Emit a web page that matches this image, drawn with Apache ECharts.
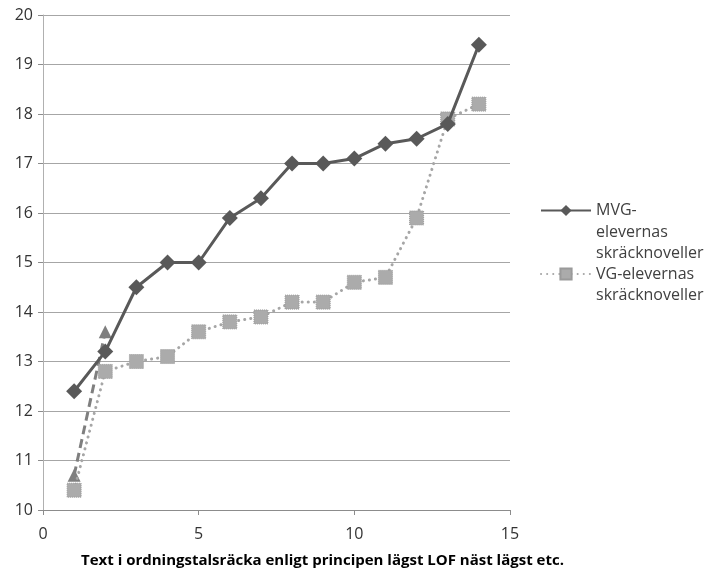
<!DOCTYPE html>
<html>
<head>
<meta charset="utf-8">
<script src="https://cdn.jsdelivr.net/npm/echarts@6/dist/echarts.min.js"></script>
<style>
html, body { margin: 0; padding: 0; background: #fff; }
#chart { width: 705px; height: 572px; }
</style>
</head>
<body>
<div id="chart"></div>
<script>
// Rank order of the texts (lowest LOF first)
const rank = [1, 2, 3, 4, 5, 6, 7, 8, 9, 10, 11, 12, 13, 14];
// MVG students' horror stories
const mvgValues = [12.4, 13.2, 14.5, 15.0, 15.0, 15.9, 16.3, 17.0, 17.0, 17.1, 17.4, 17.5, 17.8, 19.4];
// VG students' horror stories
const vgValues = [10.4, 12.8, 13.0, 13.1, 13.6, 13.8, 13.9, 14.2, 14.2, 14.6, 14.7, 15.9, 17.9, 18.2];
// Short unlabelled series
const extraRank = [1, 2];
const extraValues = [10.7, 13.6];

const mvgName = 'MVG-elevernas skräcknoveller';
const vgName = 'VG-elevernas skräcknoveller';
const mvgLegendLines = ['MVG-', 'elevernas', 'skräcknoveller'];
const vgLegendLines = ['VG-elevernas', 'skräcknoveller'];

const FONT = '"Open Sans", sans-serif';
const LH = 21.5;

const pairs = (xs, ys) => xs.map((x, i) => [x, ys[i]]);

const chart = echarts.init(document.getElementById('chart'), null, { renderer: 'canvas' });

// The legend icon sits on the vertical middle of the label, so blank lines
// are put in front of the label to bring its first line level with the icon.
function legendFor(name, lines, iconCenterY) {
  const n = lines.length;
  const padded = new Array(n - 1).fill(' ').concat(lines);
  return {
    left: 540,
    top: iconCenterY - (2 * n - 1) * LH / 2,
    padding: 0,
    orient: 'vertical',
    itemWidth: 50,
    itemHeight: 14,
    itemGap: 0,
    data: [name],
    formatter: () => padded.join('\n'),
    textStyle: {
      fontFamily: FONT,
      fontSize: 16,
      color: '#404040',
      lineHeight: LH
    }
  };
}

chart.setOption({
  animation: false,
  backgroundColor: '#ffffff',
  grid: {
    left: 43, top: 15, width: 467, height: 495,
    containLabel: false,
    outerBoundsMode: 'none'
  },
  legend: [
    legendFor(mvgName, mvgLegendLines, 210.5),
    legendFor(vgName, vgLegendLines, 274)
  ],
  xAxis: {
    type: 'value',
    min: 0,
    max: 15,
    interval: 5,
    name: 'Text i ordningstalsräcka enligt principen lägst LOF näst lägst etc.',
    nameLocation: 'middle',
    nameGap: 43,
    nameTextStyle: {
      fontFamily: FONT,
      fontSize: 15,
      fontWeight: 'bold',
      color: '#000',
      padding: [0, 0, 0, 92]
    },
    axisLine: { show: true, lineStyle: { color: '#8c8c8c', width: 1 } },
    axisTick: { show: true, length: 5, inside: false, lineStyle: { color: '#8c8c8c' } },
    axisLabel: { fontFamily: FONT, fontSize: 16, color: '#333', margin: 16 },
    splitLine: { show: false }
  },
  yAxis: {
    type: 'value',
    min: 10,
    max: 20,
    interval: 1,
    axisLine: { show: true, lineStyle: { color: '#b0b0b0', width: 1 } },
    axisTick: { show: true, length: 5, inside: false, lineStyle: { color: '#8c8c8c' } },
    axisLabel: { fontFamily: FONT, fontSize: 16, color: '#333', margin: 10 },
    splitLine: { show: true, lineStyle: { color: '#a6a6a6', width: 1 } }
  },
  series: [
    {
      name: 'extra',
      type: 'line',
      data: pairs(extraRank, extraValues),
      symbol: 'triangle',
      symbolSize: 13,
      lineStyle: { color: '#7f7f7f', width: 3, type: [9, 5] },
      itemStyle: { color: '#7f7f7f' },
      z: 2
    },
    {
      name: vgName,
      type: 'line',
      data: pairs(rank, vgValues),
      symbol: 'rect',
      symbolSize: 14,
      lineStyle: { color: '#a6a6a6', width: 3, type: [0.1, 6], cap: 'round' },
      itemStyle: { color: '#ababab', borderColor: '#9a9a9a', borderWidth: 1, borderType: 'dotted' },
      z: 3
    },
    {
      name: mvgName,
      type: 'line',
      data: pairs(rank, mvgValues),
      symbol: 'diamond',
      symbolSize: 16,
      lineStyle: { color: '#595959', width: 3 },
      itemStyle: { color: '#595959' },
      z: 4
    }
  ]
});
</script>
</body>
</html>
